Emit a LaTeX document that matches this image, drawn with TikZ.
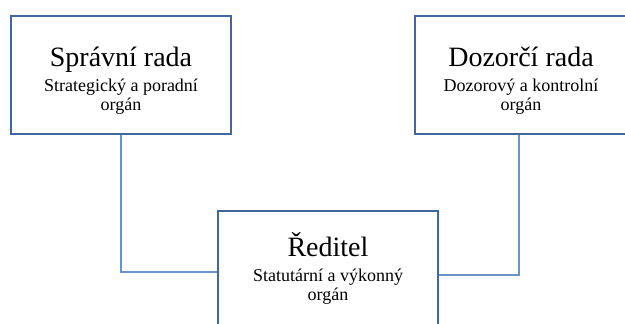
\documentclass[tikz,border=0pt]{standalone}
\usepackage{fontspec}
\setmainfont{Liberation Serif}
\definecolor{boxline}{HTML}{41679E}
\definecolor{conline}{HTML}{6C93C8}
\tikzset{
  orgbox/.style={draw=boxline, line width=2pt, fill=white, rectangle, inner sep=0pt},
  conn/.style={draw=conline, line width=1.2pt},
  titletext/.style={anchor=base, inner sep=0pt, font=\fontsize{28}{30}\selectfont},
  subtext/.style={anchor=base, inner sep=0pt, font=\fontsize{18}{20}\selectfont},
}
\begin{document}
\begin{tikzpicture}[x=1pt,y=1pt]
\clip (0,0) rectangle (625,324);
\fill[white] (0,0) rectangle (625,324);
% boxes (y = 324 - pixel row)
\node[orgbox, minimum width=220pt, minimum height=118pt] (sr) at (121,249) {};
\node[orgbox, minimum width=214pt, minimum height=118pt] (dr) at (522,249) {};
\node[orgbox, minimum width=220pt, minimum height=122pt] (red) at (328,52) {};
% connectors
\draw[conn] (sr.south) |- (red.west);
\draw[conn] ([xshift=-3pt]dr.south) |- ([yshift=-3pt]red.east);
% redraw boxes on top of connector ends
\node[orgbox, minimum width=220pt, minimum height=122pt, fill=none] (redb) at (328,52) {};
% texts
\node[titletext] (srt) at (121,257) {Správní rada};
\node[subtext] (srs1) at (121,232) {Strategický a poradní};
\node[subtext] (srs2) at (121,213) {orgán};
\node[titletext] (drt) at (521,257) {Dozorčí rada};
\node[subtext] (drs1) at (521,232) {Dozorový a kontrolní};
\node[subtext] (drs2) at (521,213) {orgán};
\node[titletext] (redt) at (328,67) {Ředitel};
\node[subtext] (reds1) at (328,42) {Statutární a výkonný};
\node[subtext] (reds2) at (328,23) {orgán};
\end{tikzpicture}
\end{document}
